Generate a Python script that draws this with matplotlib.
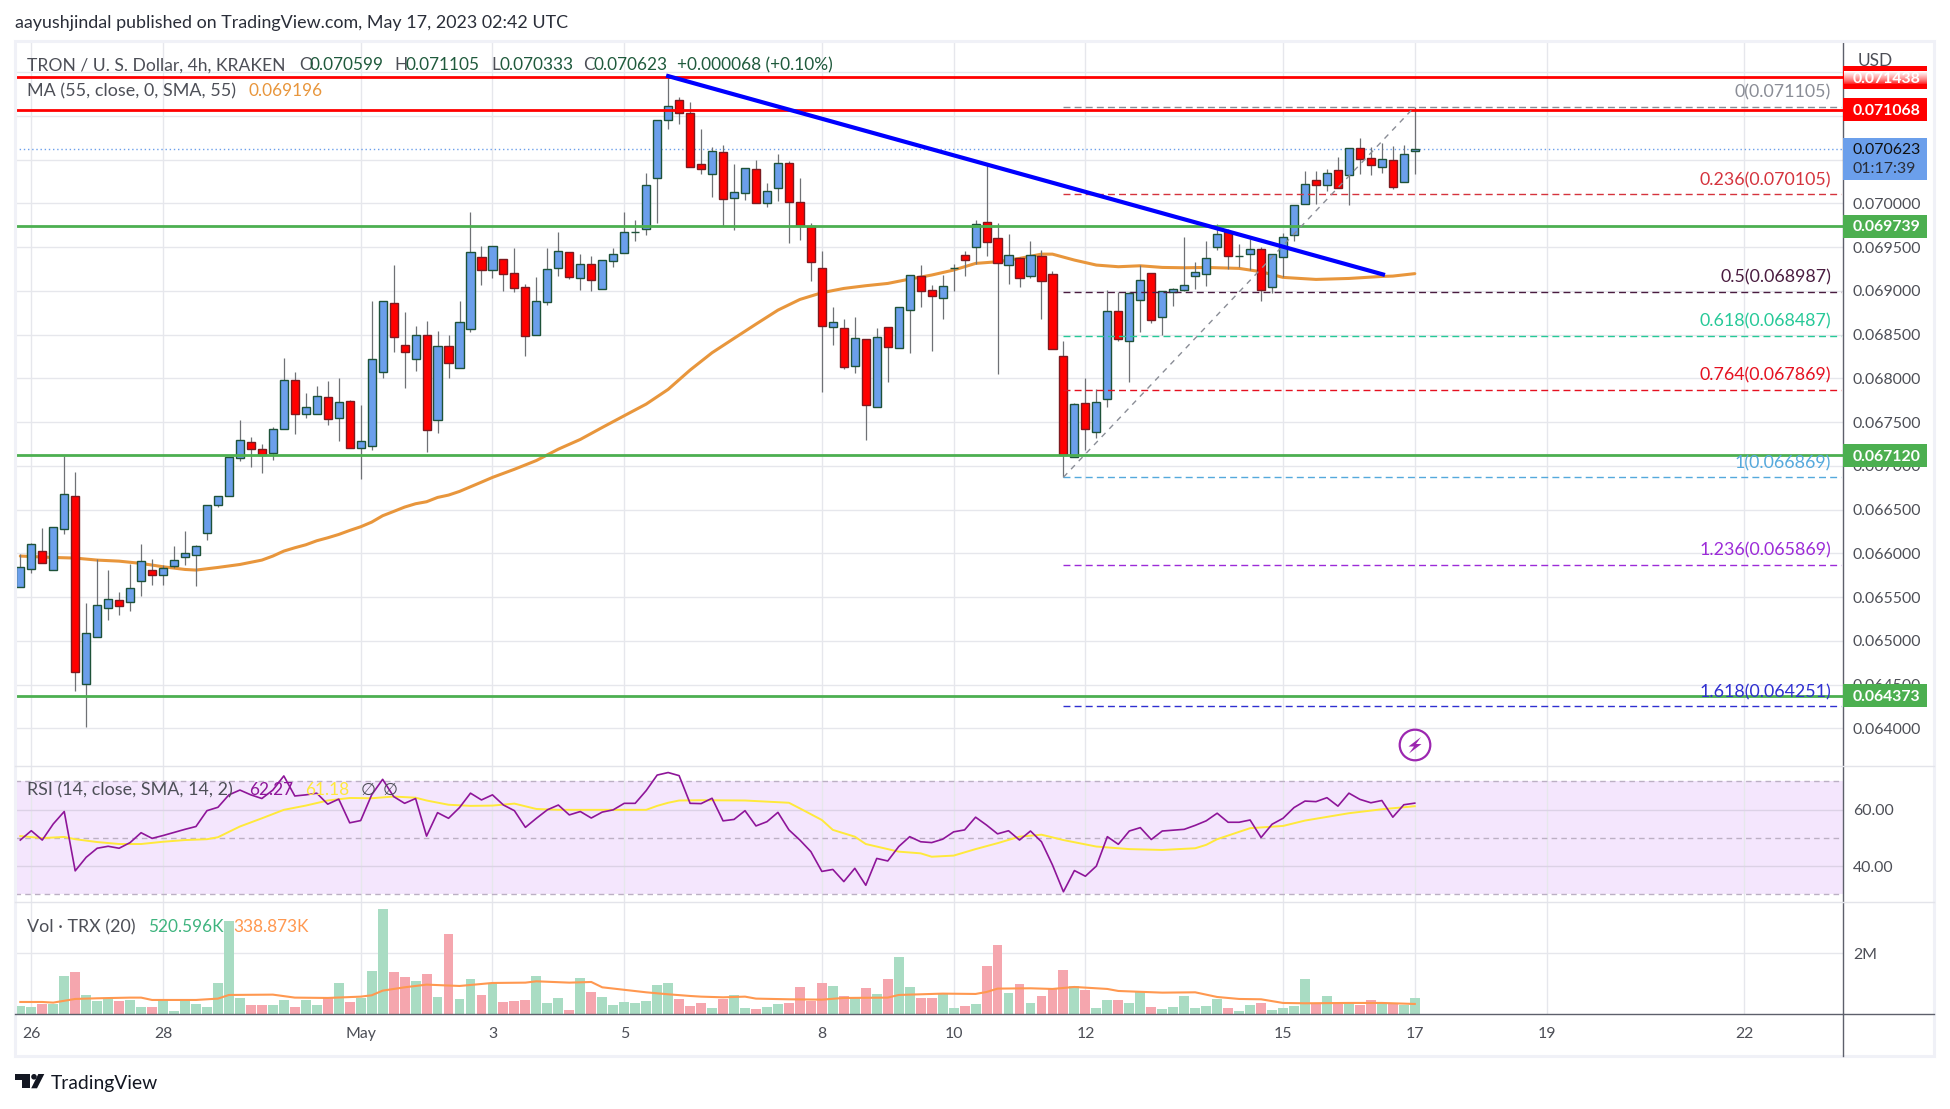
import numpy as np
import matplotlib
matplotlib.use("Agg")
import matplotlib.pyplot as plt
from matplotlib.patches import Rectangle, Circle, Polygon
from matplotlib.lines import Line2D
from matplotlib.transforms import Affine2D

plt.rcParams['font.family'] = ['Lato', 'DejaVu Sans']

# candles, in millionths of a dollar
open_ = [65609,65815,66021,65804,66272,66650,64501,65038,65369,65461,65438,65678,65804,65747,65850,65952,
         65975,66227,66547,66650,67084,67267,67187,67141,67415,67975,67587,67587,67781,67541,67735,67198,
         67221,68074,68866,68386,68226,68489,67518,68364,68120,68558,69381,69232,69359,69199,69039,68490,
         68867,69256,69439,69141,69301,69016,69336,69427,69667,69702,70284,70947,71176,71027,70444,70330,
         70582,70056,70113,70387,69999,70170,70456,70010,69736,69256,68581,68570,68136,68444,67667,68581,
         68341,68776,69164,69004,68913,69263,69404,69496,69781,69599,69290,69370,69164,69393,69187,68250,
         67095,67713,67381,67758,68764,68421,68890,69199,68696,68981,69004,69164,69187,69496,69667,69400,
         69416,69473,69038,69381,69633,69987,70261,70204,70376,70319,70627,70513,70410,70490,70239,70599]
close_ = [65838,66101,65884,66295,66672,64645,65084,65404,65472,65400,65598,65907,65747,65827,65918,65998,
          66078,66547,66650,67095,67290,67187,67118,67415,67975,67587,67667,67793,67530,67724,67198,67278,
          68215,68878,68467,68303,68489,67411,68364,68177,68649,69438,69232,69507,69195,69035,68478,68879,
          69244,69450,69153,69301,69119,69347,69416,69667,69667,70204,70947,71107,71027,70410,70395,70593,
          70044,70124,70399,69999,70136,70456,70010,69736,69324,68593,68639,68124,68456,67690,68467,68353,
          68810,69176,68993,68943,69050,69263,69347,69759,69553,69313,69404,69141,69404,69107,68330,67118,
          67701,67415,67724,68764,68444,68970,69118,68661,68993,69016,69061,69210,69370,69644,69393,69400,
          69473,69012,69416,69610,69976,70216,70204,70341,70170,70627,70502,70433,70502,70181,70559,70623]
high_ = [65990,66116,66288,66295,67111,66928,65430,65933,65808,65556,65876,66105,65933,65861,66082,66253,
         66093,66547,66650,67095,67522,67328,67248,67442,68227,68070,67831,67911,67968,68002,67751,67693,
         68882,68878,69293,68756,68596,68653,68539,68493,68882,69899,69510,69507,69359,69484,69077,69153,
         69484,69671,69439,69416,69393,69347,69488,69900,69808,70345,70947,71454,71210,71153,70848,70639,
         70662,70448,70399,70494,70227,70563,70479,70288,69770,69454,68814,68677,68700,68444,68574,68581,
         68810,69176,69290,69065,69176,69301,69450,69808,70437,69774,69648,69389,69568,69465,69221,68425,
         67713,68002,67873,69004,68981,68985,69294,69199,68993,69031,69614,69328,69568,69759,69701,69534,
         69591,69496,69416,69656,69976,70368,70368,70387,70528,70627,70745,70646,70688,70654,70665,71105]
low_ = [65609,65777,65884,65804,66223,64425,64017,65038,65236,65293,65339,65510,65640,65640,65827,65865,
        65625,66150,66528,66650,67057,66989,66920,67069,67415,67366,67545,67587,67465,67286,67198,66851,
        67179,68005,68299,67892,68086,67160,67377,68005,68120,68531,69065,69148,68998,68989,68258,68490,
        68840,69172,69130,69012,68998,69016,69275,69427,69572,69637,69774,70848,70905,70410,70338,70075,
        69740,69698,70037,69999,69957,70025,69545,69580,69115,67846,68380,68109,68063,67294,67667,67960,
        68341,68292,68818,68311,68677,68998,69172,69309,69400,68048,69080,69046,69141,68677,68330,66874,
        67095,67179,67316,67675,68429,67960,68528,68635,68490,68825,68993,69019,69058,69465,69244,69267,
        69237,68886,68978,69157,69572,69987,69991,70143,70170,69980,70334,70322,70345,70162,70239,70333]

ma_idx = [0,3,5,7,9,11,13,15,16,18,20,22,23,24,25,26,27,28,29,30,31,32,33,34,35,36,37,38,39,40,41,42,43,45,47,49,
          51,53,55,57,59,61,63,65,67,69,71,73,75,77,79,81,83,85,87,89,91,93,94,96,98,100,102,104,106,108,111,113,115,
          118,121,124,125,127]
ma_val = [65968,65952,65945,65922,65910,65884,65846,65815,65808,65838,65872,65922,65968,66025,66063,66097,66143,
          66177,66215,66261,66303,66356,66429,66478,66528,66566,66589,66638,66665,66707,66760,66813,66867,66960,
          67060,67190,67301,67438,67572,67705,67873,68094,68292,68456,68619,68779,68901,68978,69027,69058,69084,
          69134,69180,69237,69313,69332,69370,69419,69419,69351,69294,69275,69286,69267,69263,69267,69256,69218,
          69153,69130,69141,69164,69168,69196]

rsi_val = [49.2,52.5,49.2,54.9,59.3,38.3,43.1,46.3,47.0,46.3,48.3,51.8,49.8,50.8,51.9,53.0,54.0,59.6,60.8,65.2,
           66.9,65.2,63.9,66.9,71.9,64.8,65.2,65.8,61.9,63.7,55.3,56.1,65.2,70.7,64.6,62.2,63.9,50.6,58.9,56.9,
           60.7,65.8,63.4,65.2,61.6,59.6,53.7,56.9,59.9,61.6,58.1,59.3,57.0,59.1,59.9,62.2,62.2,66.7,72.2,73.1,
           72.0,62.2,62.1,64.0,56.0,56.5,59.6,54.2,55.7,59.0,52.8,49.2,45.1,38.1,38.8,34.5,39.2,33.2,42.7,41.8,
           46.9,50.4,48.6,48.3,49.5,52.1,52.8,57.3,54.5,51.4,52.5,49.2,52.4,48.6,40.4,30.9,38.4,36.4,40.0,50.4,
           47.7,52.4,53.6,49.4,52.4,52.7,53.0,54.4,56.0,58.7,55.5,55.5,56.3,50.1,54.8,56.9,60.7,63.0,62.8,64.2,
           61.2,65.8,63.6,62.4,63.2,57.3,61.7,62.27]
rsi_ma_idx = [0,2,4,5,7,9,11,13,15,17,18,20,22,24,26,28,30,32,34,36,37,39,41,43,45,47,49,51,53,55,57,58,59,60,62,
              66,70,71,73,74,76,77,80,82,83,85,87,89,91,93,95,98,101,104,107,108,109,112,115,117,121,124,127]
rsi_ma_val = [50.6,49.9,50.3,49.5,48.5,47.8,47.8,48.6,49.2,49.5,50.2,54.0,56.9,59.9,61.4,63.2,64.1,64.0,64.6,64.2,
              63.2,61.7,61.3,61.4,62.1,60.2,59.9,59.9,59.9,59.9,59.9,61.3,62.4,63.2,63.3,63.2,62.4,60.4,56.3,52.8,
              50.4,47.8,45.1,44.5,43.3,43.7,46.0,48.1,50.4,51.1,49.2,46.9,46.0,45.7,46.3,47.5,49.5,53.4,54.2,56.1,
              58.7,60.1,61.18]

# volume in thousands
vol_val = [273,240,339,339,1257,1388,634,437,514,437,470,240,240,437,109,437,339,240,1027,3060,536,306,306,306,470,
           240,470,306,536,1027,404,536,1421,3454,1388,1224,1093,1323,568,2634,503,1159,634,1027,404,437,470,1257,
           372,536,142,1191,732,568,306,404,372,437,962,1027,503,273,372,208,503,634,208,175,240,339,372,896,437,
           1027,929,601,536,863,667,1159,1880,896,536,536,700,208,273,339,1585,2273,700,995,372,601,831,1454,929,
           798,208,470,470,372,765,240,175,240,601,208,273,503,208,109,306,372,142,208,273,1159,372,601,372,372,
           306,470,372,372,306,520.6]
vol_ma_idx = [0,2,3,5,7,10,11,12,16,18,19,23,25,28,31,32,33,35,37,40,43,46,47,50,52,53,57,59,61,62,64,66,67,70,73,
              75,79,80,84,87,88,89,92,94,96,99,100,104,107,109,111,113,115,117,121,124,127]
vol_ma_val = [404,404,383,503,525,547,547,470,470,514,634,645,547,536,579,623,776,885,973,929,1027,1038,1082,1038,
              1060,885,721,656,601,579,557,579,514,492,481,536,547,634,678,667,732,842,853,831,896,831,765,710,
              721,568,503,492,372,361,372,372,338.9]

hlevels_red = [0.071438, 0.071068]
hlevels_green = [0.069739, 0.067120, 0.064373]
trend_idx = [59, 124.1]
trend_val = [0.071454, 0.069187]
last_price = 0.070623
fib_ratio = ['0', '0.236', '0.5', '0.618', '0.764', '1', '1.236', '1.618']
fib_price = [0.071105, 0.070105, 0.068987, 0.068487, 0.067869, 0.066869, 0.065869, 0.064251]
fib_color = ['#8a8d96', '#d5333d', '#4a1c40', '#26c998', '#e5101f', '#55a9dc', '#9c2bd8', '#2f2fd0']
price_ticks = np.arange(0.0640, 0.07151, 0.0005)
hidden_ticks = ['0.070500', '0.071000', '0.071500']  # sit under the price tags
date_idx = [1, 13, 31, 43, 55, 73, 85, 97, 115, 127, 139, 157]
date_lbl = ['26', '28', 'May', '3', '5', '8', '10', '12', '15', '17', '19', '22']

GRID = '#e6e7ec'
TXT = '#4d4f57'
W, H = 1950, 1109
LEFT, RIGHT = 14.7, 1842.7
TOP, SEP1, SEP2, BASE, BOTTOM = 41.7, 765.7, 902.3, 1014.3, 1055.7
FS = 11.4      # price scale
FS_NUM = 12.4  # legend numbers
FS_FIB = 12.8
FS_WORD = 12.9 # legend words
TAG_DY = 0.000014  # tag text sits a pixel under the level

idx = np.arange(len(open_))
o = np.array(open_) / 1e6
c = np.array(close_) / 1e6
h = np.array(high_) / 1e6
l = np.array(low_) / 1e6
up = c >= o

fig = plt.figure(figsize=(W / 100, H / 100), dpi=100, facecolor='white')


def add_pane(y0, y1):
    ax = fig.add_axes([LEFT / W, 1 - y1 / H, (RIGHT - LEFT) / W, (y1 - y0) / H])
    ax.set_xlim(-0.51, 165.97)
    ax.set_axisbelow(True)
    for s in ['top', 'left', 'bottom']:
        ax.spines[s].set_visible(False)
    ax.spines['right'].set_color('#5d606b')
    ax.spines['right'].set_linewidth(1.0)
    ax.yaxis.tick_right()
    ax.tick_params(axis='y', length=0, pad=7.4, labelsize=FS, labelcolor=TXT)
    ax.set_xticks(date_idx)
    ax.tick_params(axis='x', length=0, labelbottom=False)
    ax.grid(True, color=GRID, lw=1.0)
    return ax


ax = add_pane(TOP, SEP1)
ax_rsi = add_pane(SEP1, SEP2)
ax_vol = add_pane(SEP2, BASE)

# price pane
ax.set_ylim(0.063572, 0.071847)
ax.set_yticks(price_ticks)
tick_txt = [f'{p:.6f}' for p in price_ticks]
ax.set_yticklabels(['' if t in hidden_ticks else t for t in tick_txt])

ax.plot(ma_idx, np.array(ma_val) / 1e6, color='#e8963c', lw=2.2, zorder=2, solid_capstyle='round')
ax.vlines(idx, l, h, color='#6f7175', lw=0.9, zorder=3)
ax.bar(idx[up], (c - o)[up], bottom=o[up], width=0.74, color='#6b9feb', edgecolor='#1e5239', lw=1.0, zorder=4)
ax.bar(idx[~up], (o - c)[~up], bottom=c[~up], width=0.74, color='#ff0000', edgecolor='#7d1a20', lw=1.0, zorder=4)

ax.axhline(last_price, color='#6b9feb', lw=1.0, ls=(0, (1, 2)), zorder=2)
for lvl in hlevels_red:
    ax.axhline(lvl, color='#ff0000', lw=2.0, zorder=5)
for lvl in hlevels_green:
    ax.axhline(lvl, color='#4caf50', lw=2.0, zorder=5)
ax.plot(trend_idx, trend_val, color='#0000ff', lw=3.0, zorder=6)

fib_end = 165.8
for ratio, lvl, col in zip(fib_ratio, fib_price, fib_color):
    ax.plot([95, fib_end], [lvl, lvl], color=col, lw=1.0, ls=(0, (5, 3)), zorder=5)
    ax.annotate(f'{ratio}({lvl:.6f})', xy=(0.9936, lvl), xycoords=ax.get_yaxis_transform(),
                xytext=(0, 10.2), textcoords='offset points', ha='right', va='center',
                color=col, fontsize=FS_FIB, zorder=7)
ax.plot([95, 127], [fib_price[5], fib_price[0]], color='#8a8d96', lw=1.0, ls=(0, (4, 4)), zorder=5)


def price_label(value, col, txt_col='white', y_h=0.000263, txt=None):
    # coloured tag on the price scale
    trans = ax.get_yaxis_transform()
    ax.add_patch(Rectangle((1.0, value - y_h / 2), 0.0462, y_h, transform=trans,
                           facecolor=col, edgecolor='none', clip_on=False, zorder=8))
    ax.text(1.0056, value - TAG_DY, txt or f'{value:.6f}', transform=trans, color=txt_col, fontsize=FS,
            fontweight='bold', va='center', ha='left', clip_on=False, zorder=9)


price_label(0.071068, '#ff0000')
price_label(0.071438, '#ff0000')
for lvl in hlevels_green:
    price_label(lvl, '#4caf50')

trans = ax.get_yaxis_transform()
ax.add_patch(Rectangle((1.0, 0.070268), 0.0462, 0.00048, transform=trans, facecolor='#6b9feb',
                       edgecolor='none', clip_on=False, zorder=8))
ax.text(1.0056, 0.070623 - TAG_DY, '0.070623', transform=trans, color='#111111', fontsize=FS, va='center',
        clip_on=False, zorder=9)
ax.text(1.0056, 0.070410 - TAG_DY, '01:17:39', transform=trans, color='#2a2e39', fontsize=FS, va='center',
        clip_on=False, zorder=9)

# fade of the top tag
grad = np.ones((14, 2, 4))
grad[:, :, 3] = np.linspace(1, 0, 14)[:, None] ** 0.7
ax_g = fig.add_axes([(RIGHT + 1) / W, 1 - 85 / H, 84 / W, 14 / H])
ax_g.imshow(grad, aspect='auto')
ax_g.axis('off')

# RSI pane
ax_rsi.set_ylim(27.17, 75.52)
ax_rsi.set_yticks([40, 60])
ax_rsi.set_yticklabels(['40.00', '60.00'])
ax_rsi.axhspan(30, 70, color='#f4e6fd', lw=0, zorder=0.4)
for lvl in [30, 50, 70]:
    ax_rsi.axhline(lvl, color='#bcb0c4', lw=1.0, ls=(0, (4, 3)), zorder=1.5)
ax_rsi.grid(True, axis='y', color='#dcd2e6', lw=1.0)
ax_rsi.plot(idx, rsi_val, color='#8e1599', lw=1.2, zorder=3)
ax_rsi.plot(rsi_ma_idx, rsi_ma_val, color='#ffe93b', lw=1.4, zorder=2.5)

# volume pane
ax_vol.set_ylim(0, 3672)
ax_vol.set_yticks([2000])
ax_vol.set_yticklabels(['2M'])
ax_vol.bar(idx[up], np.array(vol_val)[up], width=0.9, color='#a9dcc3', zorder=2)
ax_vol.bar(idx[~up], np.array(vol_val)[~up], width=0.9, color='#f5a6ae', zorder=2)
ax_vol.plot(vol_ma_idx, vol_ma_val, color='#ff9850', lw=1.5, zorder=3)
ax_vol.set_xticklabels(date_lbl)
ax_vol.tick_params(axis='x', labelbottom=True, labelsize=FS, labelcolor=TXT, pad=9)

# page furniture, in pixels from the top left
px = Affine2D().scale(1 / W, -1 / H).translate(0, 1) + fig.transFigure


def hline(x0, x1, y, col, lw=1.0, zorder=1):
    fig.add_artist(Line2D([x0, x1], [y, y], transform=px, color=col, lw=lw, zorder=zorder))


def ftext(x, y, s, col=TXT, size=FS_WORD, **kw):
    fig.text(x / W, 1 - (y + 1.2) / H, s, color=col, fontsize=size, va='center', zorder=12, **kw)


fig.add_artist(Rectangle((LEFT, 40.5), 1934 - LEFT, 1056 - 40.5, transform=px, fill=False,
                         edgecolor='#f0f1f7', lw=2.2, zorder=1))
hline(LEFT, 1934, SEP1, '#e3e4ea', 1.0)
hline(LEFT, 1934, SEP2, '#e3e4ea', 1.0)
hline(LEFT, 1934, BASE, '#5d606b', 1.0, 11)
fig.add_artist(Line2D([RIGHT, RIGHT], [BASE, BOTTOM], transform=px, color='#5d606b', lw=1.0, zorder=11))

ftext(15, 22, 'aayushjindal published on TradingView.com, May 17, 2023 02:42 UTC', '#2a2e39')
ftext(1858, 60, 'USD', TXT, FS_NUM)

ftext(27, 64, 'TRON / U. S. Dollar, 4h, KRAKEN', TXT, 12.6)
GREEN_TXT = '#1f5a3c'
ftext(299, 64, 'O', TXT, FS_NUM)
ftext(310, 64, '0.070599', GREEN_TXT, FS_NUM)
ftext(394.4, 64, 'H', TXT, FS_NUM)
ftext(405, 64, '0.071105', GREEN_TXT, FS_NUM)
ftext(491, 64, 'L', TXT, FS_NUM)
ftext(499, 64, '0.070333', GREEN_TXT, FS_NUM)
ftext(583, 64, 'C', TXT, FS_NUM)
ftext(593, 64, '0.070623', GREEN_TXT, FS_NUM)
ftext(677, 64, '+0.000068 (+0.10%)', GREEN_TXT, FS_NUM)
ftext(27, 90, 'MA (55, close, 0, SMA, 55)')
ftext(248.3, 90, '0.069196', '#e8963c', FS_NUM)
ftext(27, 789, 'RSI (14, close, SMA, 14, 2)')
ftext(248.7, 789, '62.27', '#8e1599', FS_NUM)
ftext(305, 789, '61.18', '#ffe93b', FS_NUM)
ftext(360.7, 789, '∅', TXT, FS_NUM)
ftext(383, 789, '∅', TXT, FS_NUM)
ftext(27, 925.7, 'Vol · TRX (20)')
ftext(148, 925.7, '520.596K', '#3fb47f', FS_NUM)
ftext(233, 925.7, '338.873K', '#ff9850', FS_NUM)

# alert icon
fig.add_artist(Circle((1415, 745), 15.3, transform=px, fill=False, edgecolor='#9c27b0', lw=1.6, zorder=12))
fig.add_artist(Polygon([(1421, 737), (1408.5, 746.5), (1414, 746.5), (1409, 753.5), (1421.5, 744), (1416, 744)],
                       transform=px, facecolor='#9c27b0', edgecolor='none', zorder=12))

# logo
fig.add_artist(Polygon([(15, 1074), (30, 1074), (30, 1088.3), (22.3, 1088.3), (22.3, 1079.5), (15, 1079.5)],
                       transform=px, facecolor='#131722', edgecolor='none', zorder=12))
fig.add_artist(Circle((34, 1076.8), 2.8, transform=px, facecolor='#131722', edgecolor='none', zorder=12))
fig.add_artist(Polygon([(38.3, 1074), (44.3, 1074), (37, 1088.3), (31.2, 1088.3)],
                       transform=px, facecolor='#131722', edgecolor='none', zorder=12))
ftext(51, 1082, 'TradingView', '#131722', 13.9)

fig.savefig('out.png', dpi=100)
